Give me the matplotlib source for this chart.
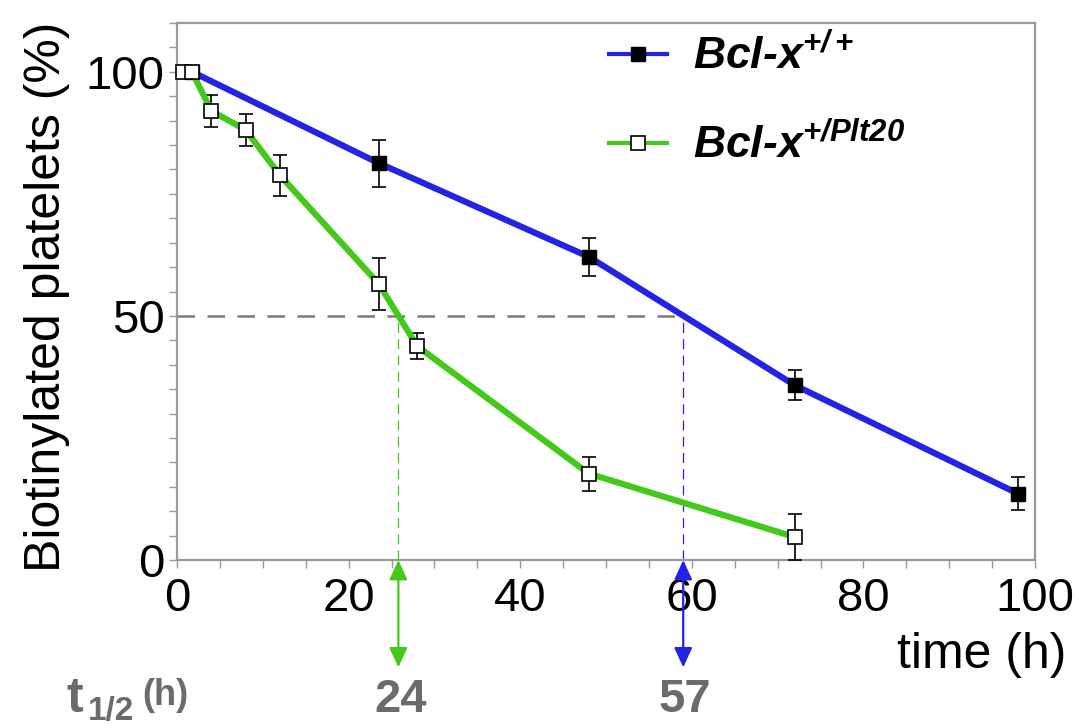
import matplotlib
matplotlib.use("Agg")
import matplotlib.pyplot as plt
from matplotlib.ticker import MultipleLocator

plt.rcParams["font.family"] = ["Liberation Sans", "DejaVu Sans"]
plt.rcParams["mathtext.fontset"] = "custom"
plt.rcParams["mathtext.rm"] = "Liberation Sans:italic:bold"
plt.rcParams["mathtext.it"] = "Liberation Sans:italic:bold"
plt.rcParams["mathtext.bf"] = "Liberation Sans:bold"

# Bcl-x +/+ (wild type)
wt_time = [1.75, 23.5, 48, 72, 98]
wt_pct = [100, 81.3, 62.1, 35.8, 13.6]
wt_err = [0, 4.8, 3.9, 3.1, 3.4]

# Bcl-x +/Plt20
plt20_time = [0.75, 1.75, 4, 8, 12, 23.5, 28, 48, 72]
plt20_pct = [100, 100, 92.0, 88.1, 78.8, 56.6, 43.8, 17.7, 4.7]
plt20_err = [0, 0, 3.3, 3.3, 4.2, 5.3, 2.6, 3.5, 4.7]

# half-life read-out
half_level = 50
half_cross = [25.8, 59.0]
half_labels = ["24", "57"]

blue = "#2323e6"
green = "#44c81a"
grey_txt = "#6b6b6b"

fig = plt.figure(figsize=(10.79, 7.28), dpi=100)
ax = fig.add_axes([177 / 1079, 1 - 560 / 728, 858 / 1079, 537 / 728])

# half-life guide lines
ax.plot([0, half_cross[1]], [half_level, half_level], color="#7a7a7a", lw=1.8,
        dashes=(7, 5), zorder=1)
ax.plot([half_cross[0], half_cross[0]], [0, half_level], color=green, lw=0.9,
        dashes=(8, 5), zorder=1)
ax.plot([half_cross[1], half_cross[1]], [0, half_level], color=blue, lw=0.9,
        dashes=(8, 5), zorder=1)

ax.errorbar(wt_time, wt_pct, yerr=wt_err, fmt="none", ecolor="black",
            elinewidth=1.2, capsize=4.7, capthick=1.2, zorder=3, clip_on=False)
ax.errorbar(plt20_time, plt20_pct, yerr=plt20_err, fmt="none", ecolor="black",
            elinewidth=1.2, capsize=4.7, capthick=1.2, zorder=3, clip_on=False)

l1, = ax.plot(wt_time, wt_pct, color=blue, lw=4.5, marker="s", markersize=9.5,
              markerfacecolor="black", markeredgecolor="black", zorder=4,
              clip_on=False)
l2, = ax.plot(plt20_time, plt20_pct, color=green, lw=4.5, marker="s",
              markersize=9.5, markerfacecolor="white", markeredgecolor="black",
              markeredgewidth=1.2, zorder=5, clip_on=False)

# double arrows below the axis
for xc, col in zip(half_cross, [green, blue]):
    ax.annotate("", xy=(xc, 0), xytext=(xc, -22), annotation_clip=False,
                arrowprops=dict(arrowstyle="<|-|>,head_length=1.2,head_width=0.55",
                                color=col, lw=1.6, shrinkA=0, shrinkB=0))

ax.set_xlim(0, 100)
ax.set_ylim(0, 110)
ax.xaxis.set_major_locator(MultipleLocator(20))
ax.xaxis.set_minor_locator(MultipleLocator(5))
ax.set_yticks([0, 50, 100])
ax.yaxis.set_minor_locator(MultipleLocator(5))
ax.tick_params(which="both", direction="out", length=6, width=1, color="#999999")
ax.tick_params(axis="x", labelsize=34, pad=6)
ax.tick_params(axis="y", labelsize=34, pad=3)
for s in ax.spines.values():
    s.set_color("#9a9a9a")
    s.set_linewidth(1.6)

ax.set_ylabel("Biotinylated platelets (%)", fontsize=36)
ax.yaxis.set_label_coords(-0.125, 0.49)
ax.set_xlabel("time (h)", fontsize=36, ha="right", va="baseline")
ax.xaxis.set_label_coords(1.036, -0.201)

for xc, lab in zip(half_cross, half_labels):
    px = 177 + xc * 8.58
    fig.text((px + 2) / 1079, 1 - 712 / 728, lab, fontsize=34, fontweight="bold",
             color=grey_txt, ha="center", va="baseline")

fig.text(66 / 1079, 1 - 712 / 728, "t", fontsize=36, fontweight="bold",
         color=grey_txt, ha="left", va="baseline")
fig.text(88 / 1079, 1 - 720 / 728, "1/2", fontsize=24, fontweight="bold",
         color=grey_txt, ha="left", va="baseline")
fig.text(142 / 1079, 1 - 705 / 728, "(h)", fontsize=26, fontweight="bold",
         color=grey_txt, ha="left", va="baseline")

leg = ax.legend([l1, l2], ["Bcl-x$^{+/+}$", "Bcl-x$^{+/Plt20}$"],
                loc="upper left", bbox_to_anchor=(609 / 1079, 1 - 34 / 728),
                bbox_transform=fig.transFigure, frameon=False,
                prop=dict(family="Liberation Sans", weight="bold", style="italic",
                          size=32),
                handlelength=1.3, handletextpad=0.6, labelspacing=1.0,
                borderpad=0, borderaxespad=0, numpoints=1, markerscale=1.0)
for h in leg.legend_handles:
    h.set_linewidth(3)

fig.savefig("out.png", dpi=100)
